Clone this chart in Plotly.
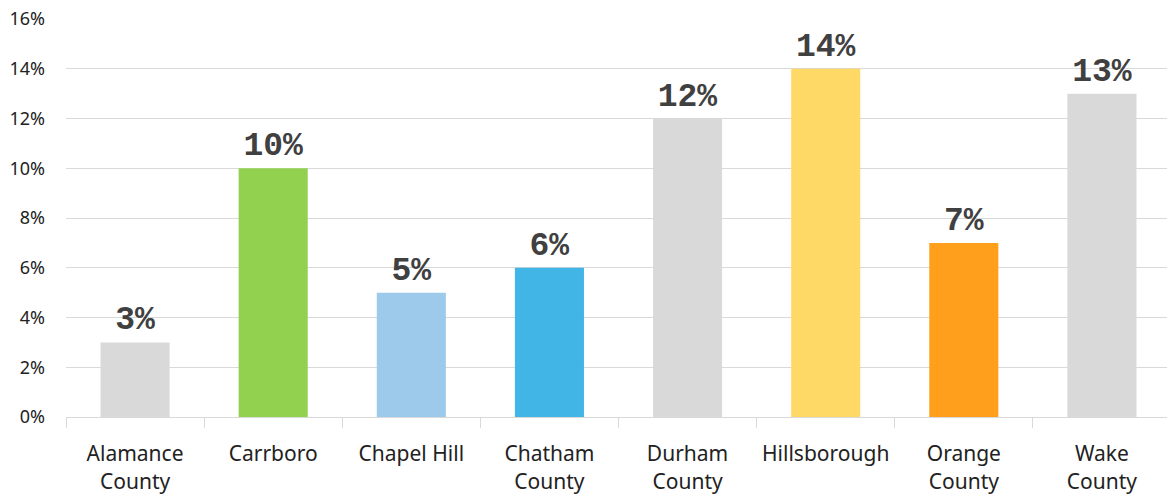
import plotly.graph_objects as go

categories = ["Alamance<br>County", "Carrboro", "Chapel Hill", "Chatham<br>County",
              "Durham<br>County", "Hillsborough", "Orange<br>County", "Wake<br>County"]
values = [3, 10, 5, 6, 12, 14, 7, 13]
labels = ["3%", "10%", "5%", "6%", "12%", "14%", "7%", "13%"]
colors = ["#D9D9D9", "#92D050", "#9DCAEB", "#41B6E6", "#D9D9D9", "#FFD966", "#FF9F1C", "#D9D9D9"]
y_ticks = [0, 2, 4, 6, 8, 10, 12, 14, 16]
y_tick_text = ["0%", "2%", "4%", "6%", "8%", "10%", "12%", "14%", "16%"]

fig = go.Figure(go.Bar(
    x=categories, y=values, marker=dict(color=colors, line=dict(width=0)),
    text=labels, texttemplate="%{text}", textposition="outside", cliponaxis=False,
    textfont=dict(family="Liberation Mono", size=33, color="#404040", weight="bold"),
))
fig.update_layout(
    width=1171, height=497, margin=dict(l=66, r=0, t=19, b=80),
    paper_bgcolor="white", plot_bgcolor="white", bargap=0.5, showlegend=False,
    font=dict(family="Noto Sans", color="#222222"),
)
fig.update_yaxes(range=[0, 16], tickvals=y_ticks, ticktext=y_tick_text, automargin=False,
                 showgrid=True, gridcolor="#D9D9D9", gridwidth=1, zeroline=False,
                 tickfont=dict(size=18, color="#222222"), ticklabelstandoff=20, showline=False)
fig.update_xaxes(tickson="boundaries", ticks="outside", ticklen=10, tickcolor="#D9D9D9",
                 showline=True, linecolor="#D9D9D9", linewidth=1, automargin=False,
                 ticklabelstandoff=18, tickangle=0,
                 tickfont=dict(size=21, color="#222222"))
fig.write_html("out.html", config={"displayModeBar": False},
               post_script="document.body.style.margin='0';document.body.style.overflow='hidden';")
